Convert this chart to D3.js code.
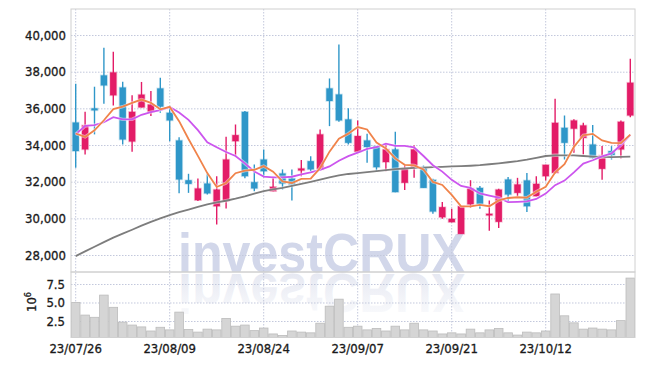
<!DOCTYPE html>
<html><head><meta charset="utf-8">
<script src="https://cdn.jsdelivr.net/npm/d3@7"></script>
<style>
html,body{margin:0;padding:0;background:#fff;}
svg{display:block;}
.lbl text{font-family:"DejaVu Sans Condensed","DejaVu Sans",sans-serif;font-stretch:condensed;font-size:13px;fill:#1a1a1a;stroke:#1a1a1a;stroke-width:0.3px;}
</style></head><body>
<svg id="chart" width="645" height="366"></svg>
<script>
const dates = ["23/07/26","23/07/27","23/07/28","23/07/31","23/08/01","23/08/02","23/08/03","23/08/04","23/08/07","23/08/08",
"23/08/09","23/08/10","23/08/11","23/08/14","23/08/16","23/08/17","23/08/18","23/08/21","23/08/22","23/08/23",
"23/08/24","23/08/25","23/08/28","23/08/29","23/08/30","23/08/31","23/09/01","23/09/04","23/09/05","23/09/06",
"23/09/07","23/09/08","23/09/11","23/09/12","23/09/13","23/09/14","23/09/15","23/09/18","23/09/19","23/09/20",
"23/09/21","23/09/22","23/09/25","23/09/26","23/09/27","23/10/04","23/10/05","23/10/06","23/10/10","23/10/11",
"23/10/12","23/10/13","23/10/16","23/10/17","23/10/18","23/10/19","23/10/20","23/10/23","23/10/24","23/10/25"];
const opens = [35230,33760,36000,37800,36710,37140,34190,36050,35810,37090,
35760,34250,32080,30990,31900,30660,30940,34210,35810,31970,
33210,31480,32450,32170,32610,33120,32670,37090,36760,35400,
33630,34250,33940,33070,33760,31940,32790,32790,32100,30060,
29790,29150,30760,31660,30160,29810,32120,31390,32070,31210,
32300,32480,34940,34890,34390,34030,32700,33670,33760,35610];
const highs = [37340,35810,37180,39310,39090,37450,36720,37440,36940,37670,
36160,34430,32430,32170,32430,32300,34450,35120,35850,32940,
33760,32270,32670,32670,33180,33390,34850,37630,39490,36000,
35340,34610,33940,34030,34720,32940,33990,32880,32160,30890,
30520,30660,32080,31760,30970,31610,32250,32210,32480,32300,
32920,36520,35610,35400,35210,35090,33940,33940,35340,38710];
const lows = [32760,33480,34580,36250,36160,34030,33630,36050,35580,35760,
34210,31370,31390,30940,31300,29660,30540,33390,32190,31480,
32210,31480,31570,30970,32300,32570,32670,35030,35270,34030,
33580,33030,32540,32570,31430,31540,32210,31660,30250,29980,
29790,29150,30570,30520,29330,29480,30940,31210,30350,31210,
32070,32430,33210,33580,33480,33270,32100,33210,33270,35520];
const closes = [33670,35070,35890,37250,37960,34300,35810,36750,36210,36090,
35340,32120,31880,31630,31360,31570,33210,34540,32300,31630,
32570,31720,31900,31850,32720,32670,34580,36400,35340,34120,
34490,33890,32790,33760,31430,32720,33760,31660,30370,30610,
29970,30660,31630,30790,30250,31570,31300,31850,30660,31880,
32920,35210,34120,35340,35070,33300,33430,33450,35270,37400];
// volume in millions of shares
const volumes = [5.0,3.3,3.0,6.0,4.35,2.35,1.95,1.7,1.15,1.65,
1.3,3.7,1.35,1.0,1.4,1.3,2.85,1.8,1.95,1.2,
1.55,0.75,0.55,1.15,1.0,0.9,2.2,4.5,5.45,1.65,
1.8,1.3,1.5,1.15,1.8,1.3,2.2,1.3,1.15,0.75,
0.9,0.75,1.4,0.9,1.3,1.5,0.9,0.6,1.0,0.9,
1.15,6.15,3.2,2.25,1.4,1.55,1.4,1.3,2.55,8.3];
const ma5 = [34630,34440,34800,35350,35960,36090,36300,36480,36300,35950,
36080,35300,34330,33410,32470,31710,31930,32460,32600,32650,
32850,32550,32020,31930,32150,32170,32740,33640,34340,34620,
34980,34850,34130,33810,33270,32920,32890,32670,31990,31820,
31280,30660,30650,30730,30660,30980,31110,31150,31130,31450,
31720,32500,32960,33900,34530,34610,34250,34120,34100,34570];
const ma10 = [34580,35040,35090,35240,35520,35400,35400,35650,35790,35900,
36070,35770,35370,34810,34150,33880,33620,33400,33000,32560,
32280,32240,32240,32270,32400,32510,32650,32830,33140,33390,
33580,33790,33880,34070,33950,33950,33870,33400,32900,32550,
32100,31770,31660,31360,31240,31130,30880,30900,30930,31060,
31350,31810,32060,32510,32990,33170,33380,33540,34000,34550];
const maLong = [27940,28200,28450,28700,28950,29170,29380,29600,29810,30000,
30180,30340,30480,30620,30760,30870,30960,31070,31200,31350,
31490,31580,31660,31770,31880,31990,32110,32230,32340,32420,
32470,32520,32580,32630,32680,32720,32750,32770,32790,32810,
32830,32850,32870,32900,32950,33000,33060,33120,33200,33300,
33400,33440,33440,33430,33400,33370,33350,33340,33350,33370];
const priceTicks = [28000,30000,32000,34000,36000,38000,40000];
const volumeTicks = [2.5,5.0,7.5];
const dateTicks = ["23/07/26","23/08/09","23/08/24","23/09/07","23/09/21","23/10/12"];

const pL=71, pR=635, pT=9, mainB=272, volB=337.5;
const svg = d3.select("#chart");
const x = d3.scaleBand().domain(dates).range([pL,pR]).padding(0);
const bw = x.bandwidth();
const cx = d => x(d) + bw/2;
const y = d3.scaleLinear().domain([27073,41420]).range([mainB,pT]);
const yv = d3.scaleLinear().domain([0.27,9.12]).range([volB,mainB]);

const rows = dates.map((d,i)=>({d, o:opens[i], h:highs[i], l:lows[i], c:closes[i], v:volumes[i]}));

const defs = svg.append("defs");
defs.append("clipPath").attr("id","clipMain").append("rect")
  .attr("x",pL).attr("y",pT).attr("width",pR-pL).attr("height",mainB-pT);
defs.append("clipPath").attr("id","clipVol").append("rect")
  .attr("x",pL).attr("y",mainB).attr("width",pR-pL).attr("height",volB-mainB);
const g = defs.append("linearGradient").attr("id","refl").attr("x1",0).attr("y1",0).attr("x2",0).attr("y2",1);
g.append("stop").attr("offset","0%").attr("stop-color","#eceef5").attr("stop-opacity",0.2);
g.append("stop").attr("offset","100%").attr("stop-color","#dfe2ee").attr("stop-opacity",1);

// watermark
const wm = svg.append("g");
wm.append("text").attr("x",178).attr("y",272)
  .attr("textLength",287).attr("lengthAdjust","spacingAndGlyphs")
  .style("font-family","'Liberation Sans',Arial,sans-serif").style("font-weight","bold").style("font-size","56px")
  .style("fill","#d2d7ea").text("investCRUX");
wm.append("g").attr("clip-path","url(#clipVol)").append("text").attr("x",178).attr("y",272)
  .attr("transform","translate(0,546) scale(1,-1)")
  .attr("textLength",287).attr("lengthAdjust","spacingAndGlyphs")
  .style("font-family","'Liberation Sans',Arial,sans-serif").style("font-weight","bold").style("font-size","56px")
  .style("fill","url(#refl)").text("investCRUX");

// gridlines
const gridStyle = sel => { sel.select(".domain").remove(); sel.selectAll("text").remove();
  sel.selectAll("line").attr("stroke","#c3c8dc").attr("stroke-dasharray","1.5,1.5").attr("stroke-width",1); };
svg.append("g").attr("transform",`translate(${pL},0)`)
  .call(d3.axisLeft(y).tickValues(priceTicks).tickSize(-(pR-pL)).tickFormat("")).call(gridStyle);
svg.append("g").attr("transform",`translate(${pL},0)`)
  .call(d3.axisLeft(yv).tickValues(volumeTicks).tickSize(-(pR-pL)).tickFormat("")).call(gridStyle);
svg.append("g").attr("transform",`translate(0,${volB})`)
  .call(d3.axisBottom(x).tickValues(dateTicks).tickSize(-(volB-pT)).tickFormat("")).call(gridStyle);

// volume bars
svg.append("g").attr("clip-path","url(#clipVol)").selectAll("rect").data(rows).join("rect")
  .attr("x",r=>x(r.d)+0.4).attr("width",bw-0.8)
  .attr("y",r=>yv(r.v)).attr("height",r=>volB-yv(r.v))
  .attr("fill","#d5d5d5").attr("stroke","#bcbcbc").attr("stroke-width",0.8);

// candles
const up="#e31c67", down="#2f97c9";
const cg = svg.append("g").attr("clip-path","url(#clipMain)");
cg.selectAll("line.wick").data(rows).join("line").attr("class","wick")
  .attr("x1",r=>cx(r.d)).attr("x2",r=>cx(r.d)).attr("y1",r=>y(r.h)).attr("y2",r=>y(r.l))
  .attr("stroke",r=>r.c>=r.o?up:down).attr("stroke-width",1.4);
const bodyW = 6.4;
cg.selectAll("rect.body").data(rows).join("rect").attr("class","body")
  .attr("x",r=>cx(r.d)-bodyW/2).attr("width",bodyW)
  .attr("y",r=>y(Math.max(r.o,r.c))).attr("height",r=>Math.max(1.5,Math.abs(y(r.o)-y(r.c))))
  .attr("fill",r=>r.c>=r.o?up:down)
  .attr("stroke",r=>r.c>=r.o?up:down).attr("stroke-opacity",0.25).attr("stroke-width",1.6);

// moving average lines
const line = arr => d3.line().x((v,i)=>cx(dates[i])).y(v=>y(v))(arr);
[[maLong,"#7d7d7d"],[ma10,"#cc55ee"],[ma5,"#f0834a"]].forEach(([arr,col])=>{
  cg.append("path").attr("d",line(arr)).attr("fill","none").attr("stroke","#fff").attr("stroke-opacity",0.5).attr("stroke-width",3.4);
  cg.append("path").attr("d",line(arr)).attr("fill","none").attr("stroke",col).attr("stroke-width",1.8);
});

// panel borders
svg.append("rect").attr("x",pL).attr("y",pT).attr("width",pR-pL).attr("height",mainB-pT)
  .attr("fill","none").attr("stroke","#d0d0d0");
svg.append("rect").attr("x",pL).attr("y",mainB).attr("width",pR-pL).attr("height",volB-mainB)
  .attr("fill","none").attr("stroke","#d0d0d0");

// axes labels
const lblStyle = sel => { sel.select(".domain").remove(); sel.selectAll("line").remove(); sel.attr("class","lbl"); };
svg.append("g").attr("transform",`translate(${pL},0)`)
  .call(d3.axisLeft(y).tickValues(priceTicks).tickSize(0).tickPadding(5).tickFormat(d3.format(","))).call(lblStyle);
svg.append("g").attr("transform",`translate(${pL},0)`)
  .call(d3.axisLeft(yv).tickValues(volumeTicks).tickSize(0).tickPadding(6).tickFormat(d3.format(".1f"))).call(lblStyle);
svg.append("g").attr("transform",`translate(0,${volB})`)
  .call(d3.axisBottom(x).tickValues(dateTicks).tickSize(0).tickPadding(6)).call(lblStyle);

// 10^6 unit label
const u = svg.append("g").attr("class","lbl").attr("transform","translate(36,302) rotate(-90)");
const ut = u.append("text").attr("text-anchor","middle");
ut.append("tspan").text("10");
ut.append("tspan").attr("dy","-5").style("font-size","9px").text("6");
</script>
</body></html>
